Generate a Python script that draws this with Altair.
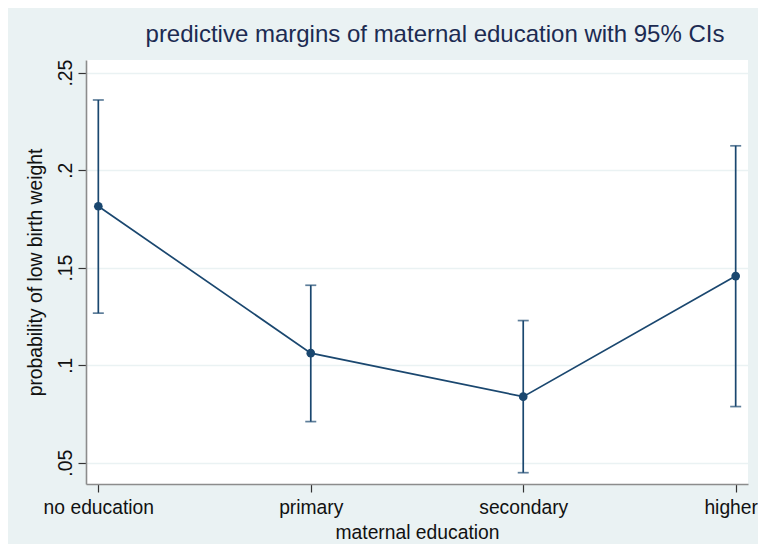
import altair as alt
import pandas as pd

# ---- data ----
categories = ["no education", "primary", "secondary", "higher"]
margin = [0.1815, 0.1062, 0.0839, 0.1457]
ci_low = [0.1267, 0.0711, 0.0449, 0.0788]
ci_high = [0.2360, 0.1410, 0.1229, 0.2125]
y_ticks = [0.05, 0.10, 0.15, 0.20, 0.25]

df = pd.DataFrame({"edu": categories, "margin": margin, "lo": ci_low, "hi": ci_high})

navy = "#1a476f"
font = "Liberation Sans"

x_axis = alt.Axis(
    title="maternal education", labelAngle=0, grid=False,
    domainColor="#8c8c8c", domainWidth=1.6, tickColor="#333333", tickSize=8, tickWidth=1.2,
    labelFont=font, labelFontSize=19.3, labelColor="#111111", labelPadding=6,
    labelOffset={"condition": {"test": "datum.value == 'higher'", "value": -5}, "value": 0},
    titleFont=font, titleFontSize=19.3, titleFontWeight="normal", titleColor="#111111", titlePadding=6,
)
y_axis = alt.Axis(
    title="probability of low birth weight", values=y_ticks,
    labelExpr="substring(format(datum.value, '.2~f'), 1)",
    labelAngle=270, labelAlign="center", labelBaseline="bottom",
    grid=True, gridColor="#eaf2f3", gridWidth=1.5,
    domainColor="#8c8c8c", domainWidth=1.6, tickColor="#333333", tickSize=8, tickWidth=1.2,
    labelFont=font, labelFontSize=19.3, labelColor="#111111", labelPadding=3,
    titleFont=font, titleFontSize=19.3, titleFontWeight="normal", titleColor="#111111", titlePadding=11,
)

x_scale = alt.Scale(type="point", padding=0.058)
y_scale = alt.Scale(domain=[0.0391, 0.2565], nice=False, zero=False)

x_enc = alt.X("edu:N", sort=categories, scale=x_scale, axis=x_axis)

base = alt.Chart(df)

line = base.mark_line(color=navy, strokeWidth=1.7).encode(
    x=x_enc, y=alt.Y("margin:Q", scale=y_scale, axis=y_axis)
)
rule = base.mark_rule(color=navy, strokeWidth=1.7).encode(
    x=x_enc, y=alt.Y("lo:Q", scale=y_scale, axis=y_axis), y2="hi:Q"
)
cap_lo = base.mark_tick(color=navy, size=11, thickness=1.7).encode(
    x=x_enc, y=alt.Y("lo:Q", scale=y_scale, axis=y_axis)
)
cap_hi = base.mark_tick(color=navy, size=11, thickness=1.7).encode(
    x=x_enc, y=alt.Y("hi:Q", scale=y_scale, axis=y_axis)
)
pts = base.mark_point(filled=True, color=navy, size=75, opacity=1).encode(
    x=x_enc, y=alt.Y("margin:Q", scale=y_scale, axis=y_axis)
)

chart = alt.layer(line, rule, cap_lo, cap_hi, pts).properties(
    width=662,
    height=424,
    title=alt.TitleParams(
        "predictive margins of maternal education with 95% CIs",
        font=font, fontSize=24, fontWeight="normal", color="#1c2b52",
        anchor="middle", frame="group", dx=18, offset=12,
    ),
    autosize=alt.AutoSizeParams(type="none"),
    padding={"left": 78, "top": 52, "right": 10, "bottom": 60},
    background="#eaf2f3",
).configure_view(
    fill="white", strokeWidth=0
)

chart.save("out.html", embed_options={"renderer": "svg", "actions": False})
